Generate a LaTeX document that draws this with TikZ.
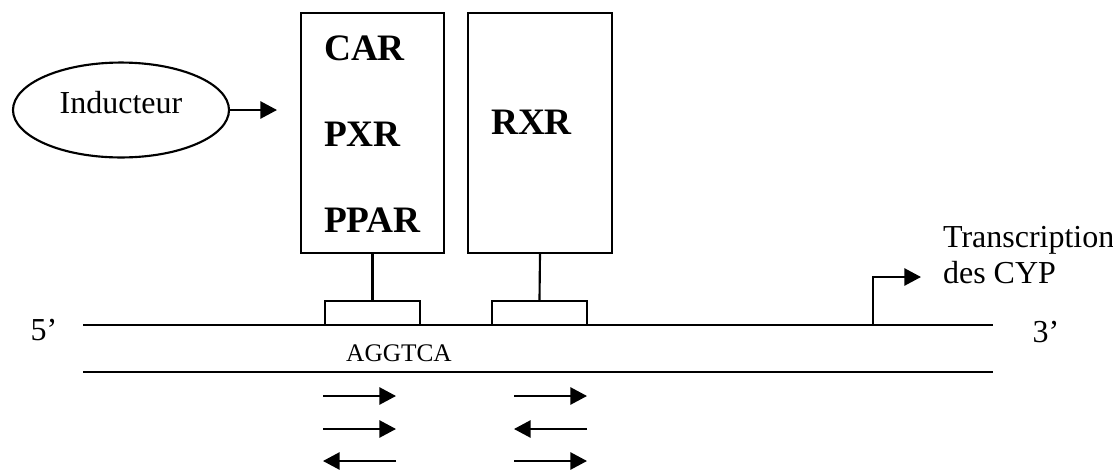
\documentclass[tikz,border=0pt]{standalone}
\usepackage{fontspec}
\setmainfont{Liberation Serif}
\usetikzlibrary{positioning, arrows.meta, shapes.geometric}

\begin{document}
\begin{tikzpicture}[
  x=0.375pt, y=-0.375pt,
  font=\fontsize{12}{13.5}\selectfont,
  line width=0.8pt,
  recbox/.style={draw, inner sep=0pt, minimum width=#1, minimum height=90pt},
  sitebox/.style={draw, inner sep=0pt, minimum width=35.6pt, minimum height=9pt},
  indbox/.style={draw, ellipse, inner sep=0pt, minimum width=81pt, minimum height=35.6pt,
                 text depth=6pt},
  rec/.style={font=\fontsize{14}{16}\selectfont\bfseries, inner sep=0pt, anchor=base west},
  lab/.style={inner sep=0pt, anchor=base},
  arr/.style={-{Triangle[length=6.2pt, width=6.4pt]}, line width=0.8pt}
]
\useasboundingbox (0,0) rectangle (1113,469);

% inducer and receptors
\node[indbox] (ind) at (121,110) {Inducteur};
\coordinate (indtip) at (277,110);
\node[recbox=53.6pt] (car) at (372.5,133) {};
\node[recbox=54pt] (rxr) at (540,133) {};
\node[rec] (carlab) at (323,60) {CAR};
\node[rec] (pxrlab) at (323,146) {PXR};
\node[rec] (ppalab) at (323,232) {PPAR};
\node[rec] (rxrlab) at (490,134) {RXR};

% binding sites
\node[sitebox] (site1) at (372.5,313) {};
\node[sitebox] (site2) at (539.5,313) {};

\draw[arr] (ind.east) -- (indtip);
\draw (car.south) -- (site1.north);
\draw (rxr.south) -- (site2.north);

% DNA
\coordinate (top5) at (83,325);
\coordinate (top3) at (993,325);
\coordinate (bot5) at (83,372);
\coordinate (bot3) at (993,372);
\draw (top5) -- (top3);
\draw (bot5) -- (bot3);
\node[lab] (p5) at (44,340) {5’};
\node[lab] (p3) at (1046,342) {3’};
\node[lab, font=\fontsize{9.5}{11}\selectfont] (seq) at (399,361) {AGGTCA};

% transcription start
\coordinate (tss) at (873,325);
\coordinate (tsstip) at (921,277);
\draw[arr] (tss) |- (tsstip);
\node[inner sep=0pt, anchor=north west, align=left] (trans) at (942,225) {Transcription\\des CYP};

% half-site orientations
\coordinate (l1a) at (323,396); \coordinate (l1b) at (396,396);
\coordinate (l2a) at (323,429); \coordinate (l2b) at (396,429);
\coordinate (l3a) at (323,461); \coordinate (l3b) at (396,461);
\coordinate (r1a) at (514,396); \coordinate (r1b) at (587,396);
\coordinate (r2a) at (514,429); \coordinate (r2b) at (587,429);
\coordinate (r3a) at (514,461); \coordinate (r3b) at (587,461);
\draw[arr] (l1a) -- (l1b);
\draw[arr] (l2a) -- (l2b);
\draw[arr] (l3b) -- (l3a);
\draw[arr] (r1a) -- (r1b);
\draw[arr] (r2b) -- (r2a);
\draw[arr] (r3a) -- (r3b);
\end{tikzpicture}
\end{document}
